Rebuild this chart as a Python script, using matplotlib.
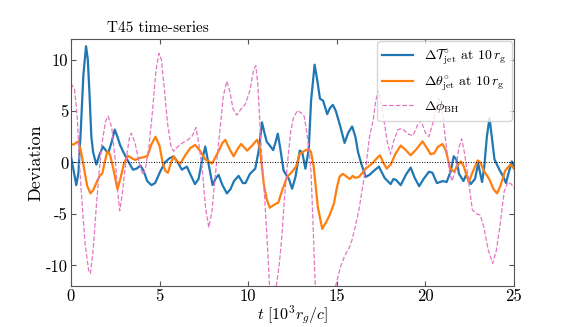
import numpy as np
import matplotlib
matplotlib.use('Agg')
import matplotlib.pyplot as plt

plt.rcParams['font.family'] = 'serif'
plt.rcParams['font.serif'] = ['cmr10']
plt.rcParams['mathtext.fontset'] = 'cm'
plt.rcParams['axes.formatter.use_mathtext'] = False
plt.rcParams['axes.unicode_minus'] = False

# Delta T_jet at 10 r_g (blue)
t_tilt = [0.0, 0.15, 0.3, 0.42, 0.55, 0.7, 0.85, 0.95, 1.05, 1.15, 1.25, 1.43, 1.6, 1.8, 2.0, 2.1,
          2.3, 2.47, 2.6, 2.77, 2.96, 3.2, 3.5, 3.7, 3.92, 4.1, 4.3, 4.54, 4.75, 5.03, 5.3, 5.55,
          5.79, 6.0, 6.26, 6.54, 6.75, 7.0, 7.2, 7.4, 7.58, 7.75, 7.99, 8.15, 8.33, 8.55, 8.8, 9.0,
          9.2, 9.46, 9.7, 9.85, 10.1, 10.4, 10.6, 10.78, 10.9, 11.05, 11.22, 11.41, 11.55, 11.67,
          11.8, 12.0, 12.3, 12.48, 12.67, 12.8, 12.91, 13.05, 13.23, 13.42, 13.55, 13.75, 13.9,
          14.05, 14.23, 14.46, 14.62, 14.78, 14.95, 15.2, 15.44, 15.65, 15.87, 16.05, 16.2, 16.38,
          16.63, 16.85, 17.1, 17.38, 17.7, 18.04, 18.2, 18.35, 18.61, 18.9, 19.17, 19.4, 19.65,
          19.9, 20.2, 20.4, 20.65, 21.0, 21.2, 21.44, 21.6, 21.75, 21.9, 22.15, 22.3, 22.56, 22.8,
          22.98, 23.2, 23.32, 23.47, 23.62, 23.75, 23.9, 24.15, 24.4, 24.55, 24.7, 24.88, 25.0]
v_tilt = [0.6, -0.8, -2.2, -1.0, 3.0, 8.5, 11.3, 10.0, 6.5, 2.5, 1.0, -0.2, 0.7, 1.55, 1.1, 0.9,
          2.0, 3.2, 2.6, 1.7, 1.0, 0.2, -0.7, -0.6, -0.3, -0.8, -1.8, -2.2, -2.0, -0.9, 0.0, 0.4,
          0.6, 0.1, -0.7, -0.4, -1.2, -2.1, -1.6, 0.2, 1.55, 0.0, -2.2, -1.6, -1.2, -2.2, -3.0, -2.6,
          -1.8, -1.3, -2.0, -2.0, -1.1, -0.6, 1.2, 3.9, 3.0, 2.0, 1.65, 1.2, 2.0, 2.8,
          1.5, -0.8, -1.6, -2.55, -1.4, 0.0, 1.15, 1.0, -0.6, 1.3, 6.0, 9.5, 8.0,
          6.2, 6.0, 4.7, 5.3, 5.6, 5.0, 3.5, 1.9, 2.9, 3.5, 2.5, 1.0, -0.1,
          -1.4, -1.2, -0.8, -0.4, -1.5, -2.1, -1.6, -1.7, -2.2, -1.2, -0.5, -1.5, -2.3,
          -1.6, -0.9, -1.0, -2.0, -1.8, -1.9, -0.8, 0.6, 0.3, -1.1, -1.8, -1.2, -2.1, -1.6,
          -0.1, -1.9, -0.5, 2.5, 4.3, 2.5, 0.3, -0.6, -1.4, -2.0, -1.0, 0.1, -0.4]

# Delta theta_jet at 10 r_g (orange)
t_theta = [0.0, 0.2, 0.4, 0.55, 0.68, 0.8, 0.92, 1.1, 1.25, 1.43, 1.6, 1.77, 1.9, 2.05, 2.2, 2.4,
           2.62, 2.8, 3.0, 3.22, 3.45, 3.62, 3.9, 4.1, 4.32, 4.55, 4.77, 5.0, 5.17, 5.32, 5.47,
           5.65, 5.79, 5.98, 6.17, 6.45, 6.73, 7.01, 7.3, 7.58, 7.96, 8.3, 8.55, 8.71, 8.95, 9.18,
           9.4, 9.6, 9.94, 10.2, 10.5, 10.65, 10.78, 10.88, 11.05, 11.22, 11.47, 11.7, 11.92, 12.2,
           12.48, 12.7, 12.91, 13.2, 13.42, 13.55, 13.7, 13.93, 14.18, 14.4, 14.6, 14.84, 15.0,
           15.16, 15.35, 15.5, 15.73, 15.9, 16.05, 16.25, 16.45, 16.63, 17.0, 17.2, 17.44, 17.62,
           17.82, 18.05, 18.3, 18.61, 18.9, 19.17, 19.5, 19.84, 20.05, 20.3, 20.5, 20.7, 20.96,
           21.15, 21.4, 21.63, 21.8, 22.0, 22.15, 22.45, 22.65, 22.95, 23.1, 23.3, 23.6, 23.85,
           24.05, 24.25, 24.5, 24.8, 25.0]
v_theta = [1.7, 1.8, 2.05, 1.2, 0.0, -1.2, -2.3, -3.0, -2.7, -2.0, -1.35, -1.05, 0.0, 1.07, 0.8, -0.7,
           -2.6, -1.5, 0.0, 0.65, 0.4, 0.25, 0.45, 0.5, 0.65, 1.8, 2.5, 1.6, 0.0, -0.8, -1.0,
           0.0, 0.6, 0.1, -0.1, 0.7, 1.4, 1.7, 1.1, 0.3, -0.1, 1.0, 1.9, 2.2, 1.3, 0.6,
           1.3, 1.8, 1.15, 1.6, 2.2, 1.5, -0.5, -2.1, -3.6, -4.4, -4.1, -3.9, -2.7, -1.4,
           -0.9, -0.4, 0.85, 1.15, 1.33, 1.0, -0.45, -4.3, -6.45, -5.8, -5.1, -4.0, -2.5,
           -1.36, -1.1, -1.3, -1.6, -1.3, -1.5, -1.4, -1.0, -0.6, -0.1, 0.3, 0.7, 0.0,
           -0.6, -0.2, 0.8, 1.65, 1.2, 0.7, 1.3, 2.05, 1.5, 0.8, 0.9, 1.5, 1.8,
           1.2, -0.6, -0.9, -0.3, 0.1, -0.3, -1.9, -1.0, 0.2, 0.0, -0.8, -1.6, -2.6,
           -3.0, -2.2, -0.8, -0.2, -0.6]

# Delta phi_BH (pink dashed)
t_phi = [0.0, 0.2, 0.35, 0.5, 0.65, 0.8, 1.0, 1.1, 1.25, 1.45, 1.7, 1.95, 2.1, 2.3, 2.5, 2.65,
         2.75, 2.9, 3.1, 3.3, 3.4, 3.6, 3.85, 4.05, 4.2, 4.4, 4.6, 4.8, 4.97, 5.1, 5.25, 5.45,
         5.65, 5.8, 6.0, 6.3, 6.6, 6.85, 7.05, 7.2, 7.4, 7.6, 7.78, 7.95, 8.15, 8.4, 8.6, 8.8,
         8.95, 9.15, 9.35, 9.6, 9.85, 10.1, 10.3, 10.43, 10.55, 10.7, 10.85, 10.95, 11.1, 11.2,
         11.3, 11.5, 11.6, 11.75, 11.9, 12.05, 12.22, 12.4, 12.55, 12.78, 13.0, 13.16, 13.3,
         13.45, 13.55, 13.65, 13.78, 13.9, 14.6, 14.95, 15.2, 15.44, 15.7, 15.85, 16.05, 16.25,
         16.45, 16.67, 16.85, 17.05, 17.2, 17.35, 17.6, 17.85, 18.03, 18.2, 18.45, 18.7, 19.0,
         19.3, 19.55, 19.75, 20.0, 20.2, 20.45, 20.75, 20.95, 21.15, 21.35, 21.5, 21.7, 21.9,
         22.05, 22.2, 22.4, 22.65, 22.9, 23.1, 23.3, 23.55, 23.8, 24.0, 24.2, 24.45, 24.65,
         24.85, 25.0]
v_phi = [7.7, 7.1, 4.5, -0.7, -4.5, -8.0, -10.5, -10.8, -8.5, -3.8, 1.3, 4.0, 4.5, 3.4, 0.2, -3.0,
         -4.7, -3.0, 0.2, 2.4, 2.85, 2.0, 0.0, -1.2, -0.6, 1.5, 5.0, 9.0, 10.6, 10.0, 7.5, 3.8,
         1.5, 1.1, 1.5, 1.9, 2.2, 2.6, 3.4, 2.0, -0.5, -4.5, -6.3, -4.8, -1.2, 3.0, 6.5, 7.9,
         7.0, 5.2, 4.6, 5.2, 5.7, 7.0, 9.0, 9.4, 7.5, 2.5, -1.5, -4.0, -8.5, -11.8,
         -13.5, -13.5, -11.8, -10.0, -7.2, -3.5, 0.0, 3.0, 4.3, 5.05, 4.8, 4.5, 3.0,
         1.0, -1.0, -5.5, -11.7, -14.0, -14.0, -11.9, -10.2, -9.1, -8.3, -7.6, -6.2, -4.6,
         -2.5, 0.0, 2.5, 4.1, 6.0, 7.0, 4.8, 2.0, 0.8, 2.0, 3.2, 3.3, 2.8,
         2.6, 3.6, 4.1, 2.9, 2.5, 4.0, 6.2, 5.0, 2.0, -0.8, -1.8, -0.8, 1.5,
         2.3, 1.0, -1.3, -4.6, -5.0, -5.1, -6.3, -8.5, -9.8, -8.6, -6.3, -2.8, -1.9,
         -2.1, -2.5]

fig = plt.figure(figsize=(5.71, 3.27), dpi=100)
ax = fig.add_axes([0.1243, 0.1254, 0.7758, 0.7554])

ax.plot(t_tilt, v_tilt, color='tab:blue', lw=1.6,
        label=r'$\Delta\mathcal{T}^{\circ}_{\rm jet}$ at $10\,r_{\rm g}$')
ax.plot(t_theta, v_theta, color='tab:orange', lw=1.6,
        label=r'$\Delta\theta^{\circ}_{\rm jet}$ at $10\,r_{\rm g}$')
ax.plot(t_phi, v_phi, color='#e377c2', lw=0.9, ls='--', label=r'$\Delta\phi_{\rm BH}$')
ax.axhline(0, color='black', lw=0.7, ls=':')

ax.set_xlim(0, 25)
ax.set_ylim(-12, 12)
ax.set_xticks([0, 5, 10, 15, 20, 25])
ax.set_yticks([-10, -5, 0, 5, 10])
ax.tick_params(direction='in', top=True, right=True, labelsize=12, pad=2, color='#555555')
for s in ax.spines.values():
    s.set_color('#555555')

ax.set_xlabel(r'$t\ [10^3 r_g/c]$', fontsize=11.5, labelpad=0)
ax.set_ylabel('Deviation', fontsize=13, labelpad=2)
ax.text(0.081, 1.03, 'T45 time-series', transform=ax.transAxes, fontsize=11, va='baseline')
ax.legend(loc='upper right', fontsize=10, borderaxespad=0.15, labelspacing=0.45,
          handlelength=2.2)

plt.savefig('out.png', dpi=100)
